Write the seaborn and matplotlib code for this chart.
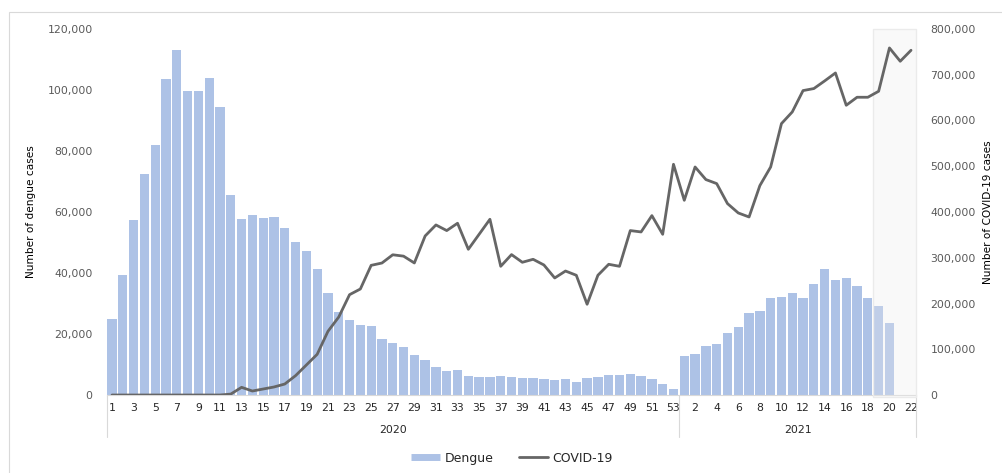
import numpy as np
import pandas as pd
import matplotlib
matplotlib.use("Agg")
import matplotlib.pyplot as plt
from matplotlib.lines import Line2D
from matplotlib.patches import Rectangle
import matplotlib.transforms as mtransforms
from matplotlib.ticker import FuncFormatter, MultipleLocator
import seaborn as sns

# Weekly case counts, epidemiological weeks 2020 (1-53) and 2021 (1-22)
weeks_2020 = list(range(1, 54))
weeks_2021 = list(range(1, 23))

dengue_2020 = [25000, 39350, 57300, 72300, 82000, 103700, 113000, 99700, 99700, 103900,
               94300, 65700, 57700, 58900, 58000, 58400, 54700, 50300, 47100, 41300,
               33600, 27200, 24700, 22800, 22600, 18400, 17050, 15600, 13100, 11400,
               9200, 7900, 8100, 6200, 5900, 5900, 6100, 5800, 5700, 5700,
               5150, 4900, 5150, 4400, 5500, 5900, 6550, 6550, 6900, 6250,
               5150, 3600, 1900]
dengue_2021 = [12800, 13550, 15950, 16600, 20350, 22400, 26900, 27650, 31700, 32000,
               33450, 31800, 36300, 41300, 37800, 38500, 35700, 31800, 29100, 23500,
               np.nan, np.nan]

covid_2020 = [0, 0, 0, 0, 0, 0, 0, 0, 0, 0,
              0, 2000, 16800, 8700, 13100, 17500, 24000, 42300, 65600, 88900,
              139200, 170500, 219300, 231700, 283400, 288500, 306500, 303500, 288600, 347600,
              371700, 359400, 375400, 318500, 351300, 384100, 281300, 306900, 290100, 296600,
              284200, 255800, 271000, 261700, 198300, 261700, 285700, 281300, 359400, 356400,
              392100, 351300, 504300]
covid_2021 = [425600, 498400, 470900, 462100, 418400, 397900, 389100, 457700, 498400, 593200,
              618700, 665400, 669800, 686500, 703900, 633300, 650800, 650800, 663900, 758600,
              729500, 753500]

years = ["2020", "2021"]
# provisional weeks of 2021 highlighted with a grey band
provisional_from_week = 19

df = pd.DataFrame({
    "year": ["2020"] * len(weeks_2020) + ["2021"] * len(weeks_2021),
    "week": weeks_2020 + weeks_2021,
    "dengue": dengue_2020 + dengue_2021,
    "covid": covid_2020 + covid_2021,
})
df["pos"] = np.arange(len(df))

bar_color = "#adc2e6"
line_color = "#666666"
tick_color = "#595959"
grid_grey = "#d9d9d9"

sns.set_theme(style="white")
plt.rcParams["font.family"] = ["DejaVu Sans"]

fig = plt.figure(figsize=(10.02, 4.73), dpi=100)
ax = fig.add_axes([0.1064, 0.1649, 0.8082, 0.7738])

sns.barplot(data=df, x="pos", y="dengue", native_scale=True, color=bar_color,
            saturation=1, width=0.86, linewidth=0, ax=ax, zorder=2)

ax2 = ax.twinx()
sns.lineplot(data=df, x="pos", y="covid", color=line_color, linewidth=2.0, ax=ax2)

n = len(df)
ax.set_xlim(-0.5, n - 0.5)
ax.set_ylim(0, 120000)
ax2.set_ylim(0, 800000)
ax.yaxis.set_major_locator(MultipleLocator(20000))
ax2.yaxis.set_major_locator(MultipleLocator(100000))
fmt = FuncFormatter(lambda v, p: f"{int(v):,}")
ax.yaxis.set_major_formatter(fmt)
ax2.yaxis.set_major_formatter(fmt)

# week labels: odd weeks in 2020, even weeks in 2021
tick_pos, tick_lab = [], []
for p, y, w in zip(df["pos"], df["year"], df["week"]):
    if (y == "2020" and w % 2 == 1) or (y == "2021" and w % 2 == 0):
        tick_pos.append(p)
        tick_lab.append(str(w))
ax.set_xticks(tick_pos)
ax.set_xticklabels(tick_lab)

ax.tick_params(axis="x", length=0, pad=6, labelsize=7.8, labelcolor="#262626")
ax.tick_params(axis="y", length=0, pad=10, labelsize=7.8, labelcolor=tick_color)
ax2.tick_params(axis="y", length=0, pad=10, labelsize=7.8, labelcolor=tick_color)
for lab in ax2.get_yticklabels():
    lab.set_horizontalalignment("left")

ax.set_xlabel("")
ax.set_ylabel("Number of dengue cases", fontsize=7.6, color="black", labelpad=8)
ax2.set_ylabel("Number of COVID-19 cases", fontsize=7.6, color="black", labelpad=5)

for a in (ax, ax2):
    for s in ("top", "left", "right"):
        a.spines[s].set_visible(False)
    a.spines["bottom"].set_color(grid_grey)
    a.spines["bottom"].set_linewidth(0.8)
    a.grid(False)
ax2.spines["bottom"].set_visible(False)

# year group separators and labels under the week labels
trans = mtransforms.blended_transform_factory(ax.transData, ax.transAxes)
n20 = len(weeks_2020)
for xb in (-0.5, n20 - 0.5, n - 0.5):
    ax.plot([xb, xb], [0, -0.115], transform=trans, color=grid_grey,
            linewidth=0.8, clip_on=False)
ax.text((n20 - 1) / 2, -0.096, years[0], transform=trans, ha="center", va="center",
        fontsize=7.8, color="#262626")
ax.text((n20 + n - 1) / 2, -0.096, years[1], transform=trans, ha="center", va="center",
        fontsize=7.8, color="#262626")

# grey band over the provisional weeks
x0 = n20 + provisional_from_week - 1 - 0.5
band = Rectangle((x0, -0.006), (n - 0.5) - x0, 1.006, transform=trans,
                 facecolor=(0.93, 0.93, 0.93), alpha=0.3, edgecolor="none",
                 zorder=3, clip_on=False)
ax.add_patch(band)
band_edge = Rectangle((x0, -0.006), (n - 0.5) - x0, 1.006, transform=trans,
                      facecolor="none", edgecolor="#ebebeb", linewidth=1.0,
                      zorder=3, clip_on=False)
ax.add_patch(band_edge)

# legend
handles = [Line2D([], [], color=bar_color, linewidth=5, solid_capstyle="butt"),
           Line2D([], [], color=line_color, linewidth=2)]
fig.legend(handles, ["Dengue", "COVID-19"], loc="center", bbox_to_anchor=(0.511, 0.031),
           ncol=2, frameon=False, fontsize=9, handlelength=2.3, columnspacing=2.0,
           handletextpad=0.4)

# chart frame
frame = Rectangle((8.5 / 1002, -0.05), 1.1, 1 - 12.5 / 473 + 0.05, transform=fig.transFigure,
                  facecolor="none", edgecolor=grid_grey, linewidth=0.8)
fig.patches.append(frame)

fig.savefig("out.png", dpi=100)
